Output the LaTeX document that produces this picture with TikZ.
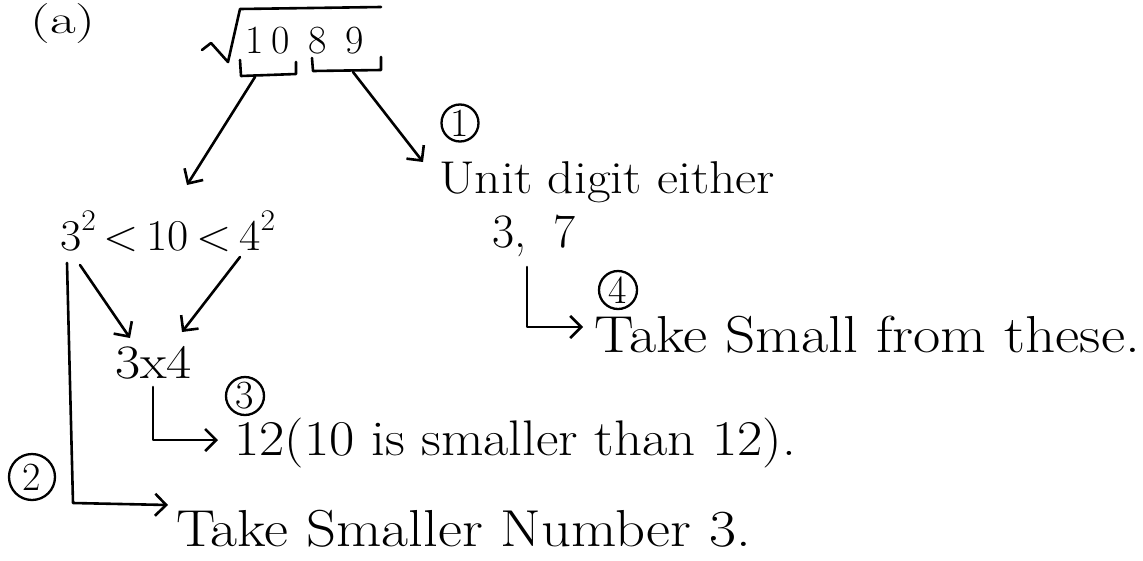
\documentclass[tikz,border=0pt]{standalone}
\usepackage{fontspec}
\usepackage{graphicx}
\usetikzlibrary{arrows.meta}
\newcommand{\fsz}[1]{\fontsize{#1}{#1}\selectfont}
\newcommand{\sx}[2]{\scalebox{#1}[1]{#2}}
\newcommand{\sq}{\raisebox{0.45em}{\fontsize{30}{30}\selectfont 2}}
\begin{document}
\begin{tikzpicture}[x=1pt,y=-1pt,
  ink/.style={line width=2.6pt, line cap=round, line join=round},
  arr/.style={ink, -{Straight Barb[length=11pt,width=22pt,line width=2.6pt]}},
  txt/.style={inner sep=0pt, anchor=base west},
  num/.style={circle, draw, line width=2.3pt, inner sep=0pt, font=\fsz{40}}]
\useasboundingbox (0,0) rectangle (1143,560);
\fill[white] (0,0) rectangle (1143,560);

% texts
\node[txt, font=\fsz{40}] (lbl) at (30,33) {\sx{1.4}{(a)}};
\node[txt, font=\fsz{40}] (d10) at (245,53) {1\hspace{8pt}0};
\node[txt, font=\fsz{40}] (d89) at (308,53) {8\hspace{19pt}9};
\node[txt, font=\fsz{44}] (ineq) at (60,250) {\sx{1.05}{3\sq\,<\,10\,<\,4\sq}};
\node[txt, font=\fsz{46}] (unit) at (439,193) {\sx{1.12}{Unit digit either}};
\node[txt, font=\fsz{48}] (opts) at (492,247) {3,\hspace{27pt}7};
\node[txt, font=\fsz{52}] (small) at (594,352) {\sx{1.14}{Take Small from these.}};
\node[txt, font=\fsz{48}] (prod) at (115,378) {\sx{1.14}{3x4}};
\node[txt, font=\fsz{50}] (twelve) at (234,455) {\sx{1.1}{12(10 is smaller than 12).}};
\node[txt, font=\fsz{52}] (smaller) at (176,546) {\sx{1.13}{Take Smaller Number 3.}};

% circled step numbers
\node[num, minimum size=37pt] (c1) at (460,123) {1};
\node[num, minimum size=46pt] (c2) at (32,477) {2};
\node[num, minimum size=38pt] (c3) at (245,396) {3};
\node[num, minimum size=38pt] (c4) at (618,290) {4};

% square root sign and brackets
\draw[ink] (202,50) -- (211,43) -- (228,62) -- (240,9) -- (381,7);
\draw[ink] (240,60) -- (241,76) -- (296,74) -- (296,62);
\draw[ink] (312,58) -- (313,71) -- (381,70) -- (381,57);

% connector end points
\coordinate (lbA) at (255,77);  \coordinate (lbB) at (187,185);
\coordinate (rbA) at (353,72);  \coordinate (rbB) at (423,162);
\coordinate (i1) at (80,265);   \coordinate (p1) at (130,338);
\coordinate (i2) at (240,257);  \coordinate (p2) at (182,332);
\coordinate (q1) at (153,387);  \coordinate (q2) at (153,440);  \coordinate (q3) at (218,440);
\coordinate (o1) at (527,267);  \coordinate (o2) at (527,327);  \coordinate (o3) at (583,327);
\coordinate (s1) at (67,263);   \coordinate (s2) at (73,503);   \coordinate (s3) at (168,505);

\draw[arr] (lbA) -- (lbB);
\draw[arr] (rbA) -- (rbB);
\draw[arr] (i1) -- (p1);
\draw[arr] (i2) -- (p2);
\draw[arr] (q1) -- (q2) -- (q3);
\draw[arr] (o1) -- (o2) -- (o3);
\draw[arr] (s1) -- (s2) -- (s3);
\end{tikzpicture}
\end{document}
